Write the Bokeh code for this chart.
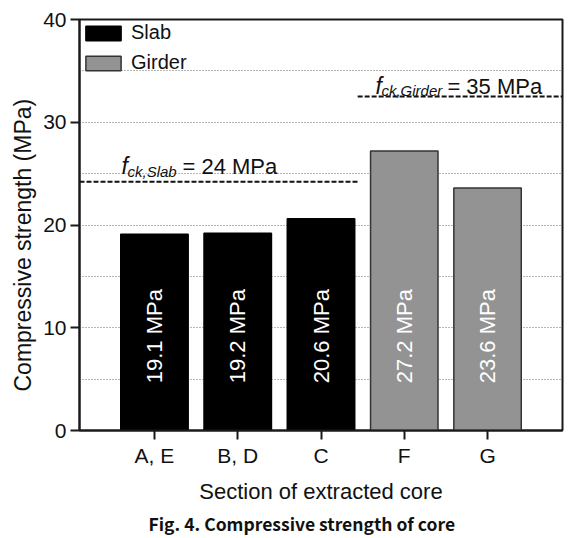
from math import pi
from bokeh.plotting import figure
from bokeh.models import (ColumnDataSource, FixedTicker, Legend, LegendItem,
                          Label, Title, Range1d)
from bokeh.embed import file_html
from bokeh.resources import INLINE
from bokeh.core.properties import value

# ---------------- data ----------------
categories = ["A, E", "B, D", "C", "F", "G"]
groups = ["Slab", "Slab", "Slab", "Girder", "Girder"]
strength = [19.1, 19.2, 20.6, 27.2, 23.6]
y_ticks = [0, 10, 20, 30, 40]
grid_levels = [5, 10, 15, 20, 25, 30, 35]

fck_names = ["Slab", "Girder"]
fck_nominal = [24, 35]
fck_line_y = [24.2, 32.5]
fck_x_start = [0.1, 3.44]
fck_x_end = [3.44, 5.9]

y_title = "Compressive strength (MPa)"
x_title = "Section of extracted core"
caption_text = "Fig. 4. Compressive strength of core"

positions = list(range(1, len(categories) + 1))

FONT = "Liberation Sans"
TXT = "#111111"

p = figure(width=582, height=538, x_range=Range1d(0.1, 5.9), y_range=Range1d(0, 40),
           output_backend="svg", toolbar_location=None,
           min_border_left=79, min_border_right=20, min_border_top=19, min_border_bottom=106)
p.background_fill_color = "white"
p.border_fill_color = "white"
p.outline_line_color = "#1a1a1a"
p.outline_line_width = 2

# grid
p.xgrid.visible = False
p.ygrid.ticker = FixedTicker(ticks=grid_levels)
p.ygrid.grid_line_color = "#6e6e6e"
p.ygrid.grid_line_dash = "1 2"
p.ygrid.grid_line_width = 1

# bars
colors = {"Slab": ("#000000", "#000000"), "Girder": ("#939393", "#333333")}
renderers = {}
for g in ["Slab", "Girder"]:
    xs = [positions[i] for i in range(len(categories)) if groups[i] == g]
    ys = [strength[i] for i in range(len(categories)) if groups[i] == g]
    src = ColumnDataSource(dict(x=xs, top=ys, label=[f"{v} MPa" for v in ys]))
    fc, lc = colors[g]
    r = p.vbar(x="x", top="top", width=0.81, source=src, fill_color=fc,
               line_color=lc, line_width=1.5)
    renderers[g] = r
    p.text(x="x", y=4.6, text="label", source=src, angle=pi / 2,
           text_align="left", text_baseline="middle", text_color="white",
           text_font=value(FONT), text_font_size="22px")

# design strength lines
p.segment(x0=fck_x_start, x1=fck_x_end, y0=fck_line_y, y1=fck_line_y,
          line_color="#111111", line_width=2, line_dash="5 2")

# annotations  f_ck,Name = N MPa
anchors = [(0.604, 25.7, 6, -5, 61), (3.653, 33.5, 6, -4, 72)]
for (ax, ay, sx, sy, ex), name, nom in zip(anchors, fck_names, fck_nominal):
    p.add_layout(Label(x=ax, y=ay, text="f", text_font=FONT, text_font_size="23px",
                       text_font_style="italic", text_color=TXT, text_baseline="alphabetic"))
    p.add_layout(Label(x=ax, y=ay, x_offset=sx, y_offset=sy, text=f"ck,{name}",
                       text_font=FONT, text_font_size="15px", text_font_style="italic",
                       text_color=TXT, text_baseline="alphabetic"))
    p.add_layout(Label(x=ax, y=ay, x_offset=ex, text=f"= {nom} MPa", text_font=FONT,
                       text_font_size="22px", text_color=TXT, text_baseline="alphabetic"))

# legend
legend = Legend(items=[LegendItem(label=g, renderers=[renderers[g]]) for g in ["Slab", "Girder"]],
                location="top_left")
legend.border_line_alpha = 0
legend.background_fill_alpha = 0
legend.margin = 0
legend.padding = 2
legend.spacing = 7
legend.glyph_width = 44
legend.glyph_height = 18
legend.label_height = 18
legend.label_standoff = 6
legend.label_text_font = FONT
legend.label_text_font_size = "20px"
legend.label_text_color = TXT
p.add_layout(legend)

# axes
for ax in (p.xaxis[0], p.yaxis[0]):
    ax.axis_line_width = 2
    ax.axis_line_color = "#1a1a1a"
    ax.major_tick_line_width = 2
    ax.major_tick_line_color = "#1a1a1a"
    ax.major_tick_out = 9
    ax.major_tick_in = 0
    ax.minor_tick_out = 0
    ax.minor_tick_in = 0
    ax.major_label_text_font = FONT
    ax.major_label_text_font_size = "21px"
    ax.major_label_text_color = TXT
    ax.axis_label_text_font = FONT
    ax.axis_label_text_font_size = "22px"
    ax.axis_label_text_font_style = "normal"
    ax.axis_label_text_color = TXT
    ax.major_label_standoff = 4

p.yaxis.ticker = FixedTicker(ticks=y_ticks)
p.xaxis.ticker = FixedTicker(ticks=positions)
p.xaxis.major_label_overrides = dict(zip(positions, categories))
p.xaxis.axis_label = x_title
p.xaxis.axis_label_standoff = 9

# y-axis title as a side title (sits a little below the frame centre, as in the reference)
ytitle = Title(text=y_title, align="left", offset=39, standoff=10,
               text_font=FONT, text_font_size="23px", text_font_style="normal",
               text_color=TXT)
p.add_layout(ytitle, "left")

caption = Title(text=caption_text, align="left", offset=69,
                standoff=5, text_font="Noto Sans CJK KR", text_font_style="bold",
                text_font_size="17.5px", text_color=TXT)
p.add_layout(caption, "below")

open("out.html", "w").write(file_html(p, INLINE))
